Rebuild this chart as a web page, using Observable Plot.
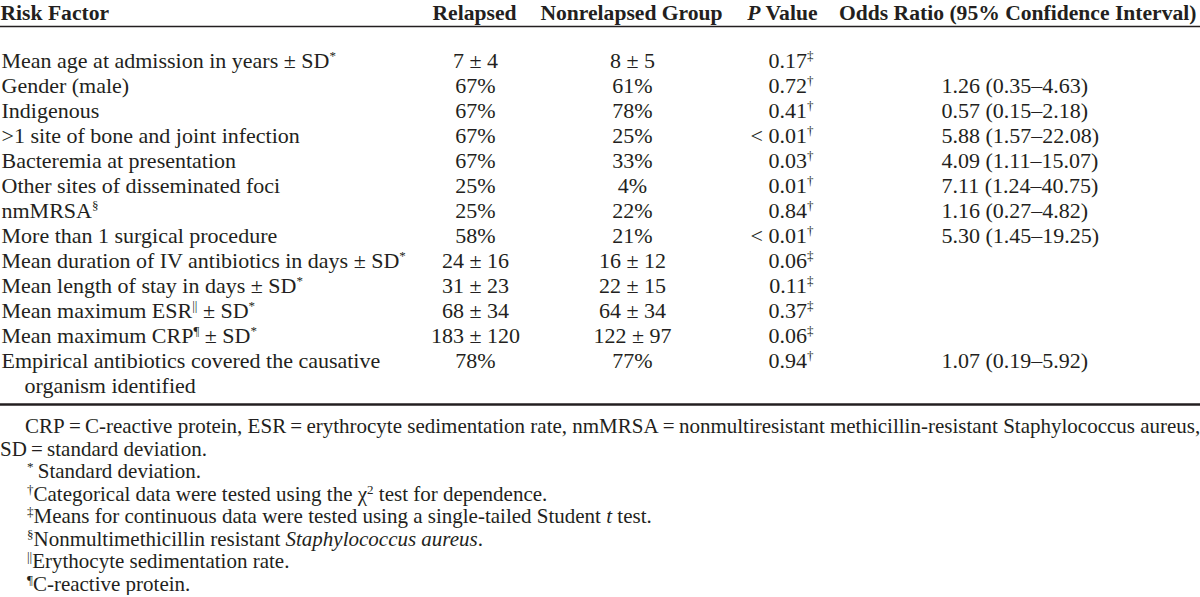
<!DOCTYPE html>
<html>
<head>
<meta charset="utf-8">
<script src="https://cdn.jsdelivr.net/npm/d3@7"></script>
<script src="https://cdn.jsdelivr.net/npm/@observablehq/plot@0.6"></script>
<style>
  html, body { margin: 0; padding: 0; background: #fff; }
  #chart svg { display: block; }
  #notes { font-family: "Liberation Serif", "Times New Roman", serif; font-size: 21px; line-height: 22.5px; color: #231f20; width: 1194px; padding-top: 5px; }
  #notes .just { text-indent: 25px; text-align: justify; text-align-last: justify; white-space: nowrap; }
  #notes .fn { padding-left: 27px; }
  #notes sup { font-size: 0.62em; line-height: 0; vertical-align: 0.55em; }
</style>
</head>
<body>
<div id="chart"></div>
<div id="notes"></div>
<script>
// ---------- data ----------
const headers = ["Risk Factor", "Relapsed", "Nonrelapsed Group", "~{P} Value", "Odds Ratio (95% Confidence Interval)"];
const riskFactors = [
  "Mean age at admission in years ± SD^{*}",
  "Gender (male)",
  "Indigenous",
  ">1 site of bone and joint infection",
  "Bacteremia at presentation",
  "Other sites of disseminated foci",
  "nmMRSA^{§}",
  "More than 1 surgical procedure",
  "Mean duration of IV antibiotics in days ± SD^{*}",
  "Mean length of stay in days ± SD^{*}",
  "Mean maximum ESR^{||} ± SD^{*}",
  "Mean maximum CRP^{¶} ± SD^{*}",
  "Empirical antibiotics covered the causative\norganism identified"
];
const relapsedValues = ["7 ± 4", "67%", "67%", "67%", "67%", "25%", "25%", "58%", "24 ± 16", "31 ± 23", "68 ± 34", "183 ± 120", "78%"];
const nonrelapsedValues = ["8 ± 5", "61%", "78%", "25%", "33%", "4%", "22%", "21%", "16 ± 12", "22 ± 15", "64 ± 34", "122 ± 97", "77%"];
const pValues = ["0.17", "0.72", "0.41", "< 0.01", "0.03", "0.01", "0.84", "< 0.01", "0.06", "0.11", "0.37", "0.06", "0.94"];
const pTests = ["‡", "†", "†", "†", "†", "†", "†", "†", "‡", "‡", "‡", "‡", "†"];
const oddsRatios = ["", "1.26 (0.35–4.63)", "0.57 (0.15–2.18)", "5.88 (1.57–22.08)", "4.09 (1.11–15.07)", "7.11 (1.24–40.75)", "1.16 (0.27–4.82)", "5.30 (1.45–19.25)", "", "", "", "", "1.07 (0.19–5.92)"];

const abbreviationLine1 = "CRP\u2009=\u2009C-reactive protein, ESR\u2009=\u2009erythrocyte sedimentation rate, nmMRSA\u2009=\u2009nonmultiresistant methicillin-resistant Staphylococcus aureus,";
const abbreviationLine2 = "SD\u2009=\u2009standard deviation.";
const footnoteMarks = ["*", "†", "‡", "§", "||", "¶"];
const footnoteTexts = [
  "\u2009Standard deviation.",
  "Categorical data were tested using the χ^{2} test for dependence.",
  "Means for continuous data were tested using a single-tailed Student ~{t} test.",
  "Nonmultimethicillin resistant ~{Staphylococcus aureus}.",
  "Erythocyte sedimentation rate.",
  "C-reactive protein."
];

// ---------- layout (not data) ----------
const layout = {
  headerX: [0, 474, 631, 817, 1196],
  headerAnchor: ["start", "middle", "middle", "end", "end"],
  factorX: 1, indentX: 24, relapsedX: 475, nonrelapsedX: 632, pX: 813, orX: 941
};
const ink = "#231f20";

// ---------- build table rows ----------
const rows = [];
const continuation = [];
let line = 2;
riskFactors.forEach((f, i) => {
  const parts = f.split("\n");
  rows.push({
    line, factor: parts[0],
    relapsed: relapsedValues[i], nonrelapsed: nonrelapsedValues[i],
    p: pValues[i] + "^{" + pTests[i] + "}", or: oddsRatios[i]
  });
  parts.slice(1).forEach((t, k) => continuation.push({line: line + 1 + k, text: t}));
  line += parts.length;
});
const lineCount = line;
const headerRows = headers.map((h, i) => ({line: 0, text: h, i}));

const chart = Plot.plot({
  width: 1200, height: 410,
  marginTop: 0, marginRight: 0, marginBottom: 0, marginLeft: 0,
  x: {type: "linear", domain: [0, 1200], range: [0, 1200], axis: null},
  y: {type: "point", domain: d3.range(lineCount), range: [10, 385], padding: 0, axis: null},
  style: {fontFamily: "'Liberation Serif', 'Times New Roman', serif", fontSize: "22px", color: ink, background: "#fff"},
  marks: [
    Plot.ruleY([0], {y: d => d, dy: 16, stroke: ink, strokeWidth: 1.6}),
    Plot.ruleY([lineCount - 1], {y: d => d, dy: 19, stroke: ink, strokeWidth: 2.6}),
    ...headerRows.map(h => Plot.text([h], {
      x: () => layout.headerX[h.i], y: "line", text: "text",
      textAnchor: layout.headerAnchor[h.i], fontWeight: "bold", fontSize: 21.6, fill: ink, dy: 2.5
    })),
    Plot.text(rows, {x: () => layout.factorX, y: "line", text: "factor", textAnchor: "start", fill: ink}),
    Plot.text(continuation, {x: () => layout.indentX, y: "line", text: "text", textAnchor: "start", fill: ink}),
    Plot.text(rows, {x: () => layout.relapsedX, y: "line", text: "relapsed", textAnchor: "middle", fill: ink}),
    Plot.text(rows, {x: () => layout.nonrelapsedX, y: "line", text: "nonrelapsed", textAnchor: "middle", fill: ink}),
    Plot.text(rows, {x: () => layout.pX, y: "line", text: "p", textAnchor: "end", fill: ink}),
    Plot.text(rows, {x: () => layout.orX, y: "line", text: "or", textAnchor: "start", fill: ink})
  ]
});

// turn ^{..} (superscript) and ~{..} (italic) markup into tspans
const NS = "http://www.w3.org/2000/svg";
function applyMarkup(node) {
  const s = node.textContent;
  if (!/[\^~]\{/.test(s)) return;
  while (node.firstChild) node.removeChild(node.firstChild);
  const re = /([\^~])\{([^}]*)\}/g;
  let last = 0, m, raised = false;
  const add = (txt, kind) => {
    const t = document.createElementNS(NS, "tspan");
    t.textContent = txt;
    if (kind === "^") { t.setAttribute("font-size", "13px"); t.setAttribute("dy", "-8"); raised = true; }
    else {
      if (raised) { t.setAttribute("dy", "8"); raised = false; }
      if (kind === "~") t.setAttribute("font-style", "italic");
    }
    node.appendChild(t);
  };
  while ((m = re.exec(s))) {
    if (m.index > last) add(s.slice(last, m.index), null);
    add(m[2], m[1]);
    last = re.lastIndex;
  }
  if (last < s.length) add(s.slice(last), null);
}
chart.querySelectorAll("text").forEach(t => {
  const spans = t.querySelectorAll("tspan");
  if (spans.length) spans.forEach(applyMarkup); else applyMarkup(t);
});
document.getElementById("chart").appendChild(chart);

// ---------- footnotes (caption below the svg) ----------
const toHTML = s => s.replace(/&/g, "&amp;").replace(/</g, "&lt;")
  .replace(/\^\{([^}]*)\}/g, "<sup>$1</sup>").replace(/~\{([^}]*)\}/g, "<i>$1</i>");
const notes = document.getElementById("notes");
notes.innerHTML =
  `<div class="just">${toHTML(abbreviationLine1)}</div>` +
  `<div>${toHTML(abbreviationLine2)}</div>` +
  footnoteMarks.map((mk, i) => `<div class="fn"><sup>${mk}</sup>${toHTML(footnoteTexts[i])}</div>`).join("");
</script>
</body>
</html>
